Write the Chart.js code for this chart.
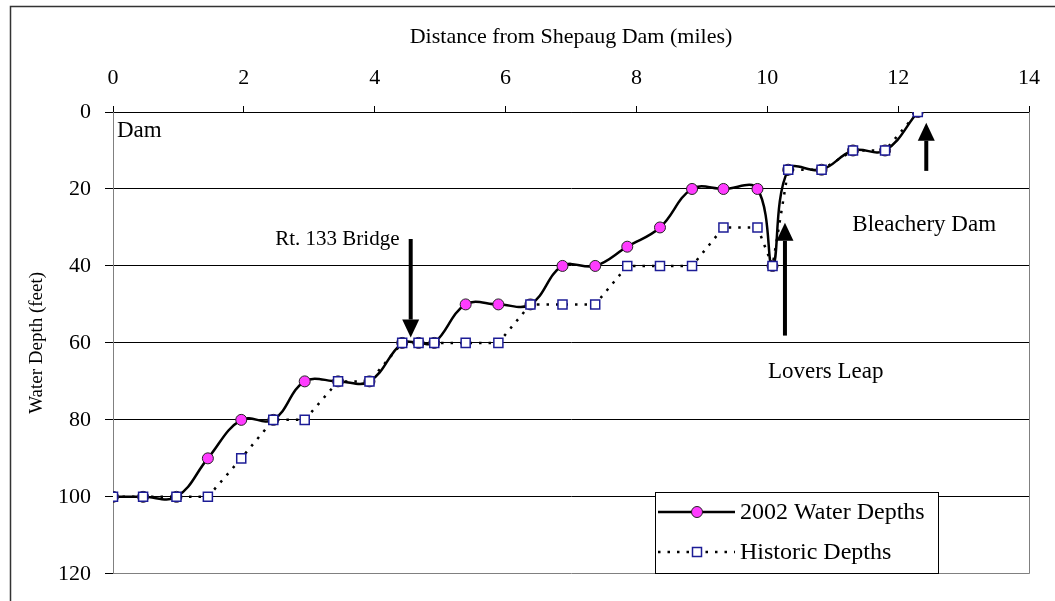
<!DOCTYPE html>
<html>
<head>
<meta charset="utf-8">
<script src="https://cdn.jsdelivr.net/npm/chart.js@4.4.0/dist/chart.umd.min.js"></script>
<style>
  html, body { margin: 0; padding: 0; background: #fff; }
  #wrap { width: 1055px; height: 601px; }
</style>
</head>
<body>
<div id="wrap"><canvas id="depthChart" width="1055" height="601"></canvas></div>
<script>
// distance from Shepaug Dam (miles) for each survey point
const miles = [0, 0.46, 0.97, 1.45, 1.96, 2.45, 2.93, 3.44, 3.92, 4.42, 4.67, 4.91, 5.39, 5.89,
  6.38, 6.87, 7.37, 7.86, 8.36, 8.85, 9.33, 9.85, 10.08, 10.32, 10.83, 11.31, 11.80, 12.30];
const depth2002 = [100, 100, 100, 90, 80, 80, 70, 70, 70, 60, 60, 60, 50, 50,
  50, 40, 40, 35, 30, 20, 20, 20, 40, 15, 15, 10, 10, 0];
const depthHistoric = [100, 100, 100, 100, 90, 80, 80, 70, 70, 60, 60, 60, 60, 60,
  50, 50, 50, 40, 40, 40, 30, 30, 40, 15, 15, 10, 10, 0];

const seriesNames = ['2002 Water Depths', 'Historic Depths'];
const xTitle = 'Distance from Shepaug Dam (miles)';
const yTitle = 'Water Depth (feet)';

// text labels and arrows, in chart units (miles, feet)
const notes = [
  { text: 'Dam', x: 0.06, y: 6.4, size: 23 },
  { text: 'Rt. 133 Bridge', x: 2.48, y: 34.6, size: 21 },
  { text: 'Bleachery Dam', x: 11.3, y: 30.8, size: 23 },
  { text: 'Lovers Leap', x: 10.01, y: 69.0, size: 23 }
];
const arrows = [
  { x: 4.55, from: 33, to: 58.6 },
  { x: 10.27, from: 58.1, to: 28.8 },
  { x: 12.43, from: 15.3, to: 2.8 }
];

const serif = "'Liberation Serif', 'Times New Roman', serif";

const toPoints = (ys) => ys.map((y, i) => ({ x: miles[i], y: y }));

const extras = {
  id: 'extras',
  afterDraw(chart) {
    const ctx = chart.ctx;
    const area = chart.chartArea;
    const xs = chart.scales.x;
    const ys = chart.scales.y;
    ctx.save();

    // outer frame (only top and left show in the picture)
    ctx.strokeStyle = '#333';
    ctx.lineWidth = 1.5;
    ctx.beginPath();
    ctx.moveTo(10.5, 601);
    ctx.lineTo(10.5, 6.5);
    ctx.lineTo(1055, 6.5);
    ctx.stroke();

    // plot area right edge
    ctx.strokeStyle = '#808080';
    ctx.lineWidth = 1;
    ctx.beginPath();
    ctx.moveTo(Math.round(area.right) + 0.5, area.top);
    ctx.lineTo(Math.round(area.right) + 0.5, area.bottom);
    ctx.stroke();

    // notes
    ctx.fillStyle = '#000';
    ctx.textAlign = 'left';
    ctx.textBaseline = 'alphabetic';
    notes.forEach(n => {
      ctx.font = n.size + 'px ' + serif;
      ctx.fillText(n.text, xs.getPixelForValue(n.x), ys.getPixelForValue(n.y));
    });

    // arrows
    arrows.forEach(a => {
      const x = xs.getPixelForValue(a.x);
      const y0 = ys.getPixelForValue(a.from);
      const y1 = ys.getPixelForValue(a.to);
      const dir = y1 > y0 ? 1 : -1;
      const headLen = 18, headW = 8.5;
      ctx.strokeStyle = '#000';
      ctx.lineWidth = 4;
      ctx.beginPath();
      ctx.moveTo(x, y0);
      ctx.lineTo(x, y1 - dir * headLen);
      ctx.stroke();
      ctx.beginPath();
      ctx.moveTo(x, y1);
      ctx.lineTo(x - headW, y1 - dir * headLen);
      ctx.lineTo(x + headW, y1 - dir * headLen);
      ctx.closePath();
      ctx.fill();
    });

    // legend box
    const lx = 655, ly = 492, lw = 283, lh = 81;
    ctx.fillStyle = '#fff';
    ctx.fillRect(lx, ly, lw, lh);
    ctx.strokeStyle = '#000';
    ctx.lineWidth = 1;
    ctx.strokeRect(lx + 0.5, ly + 0.5, lw, lh);
    chart.data.datasets.forEach((ds, i) => {
      const rowY = ly + 20 + i * 40;
      ctx.strokeStyle = ds.borderColor;
      ctx.lineWidth = ds.borderWidth;
      ctx.setLineDash(ds.borderDash || []);
      ctx.beginPath();
      ctx.moveTo(lx + 3, rowY);
      ctx.lineTo(lx + 80, rowY);
      ctx.stroke();
      ctx.setLineDash([]);
      const mx = lx + 42;
      ctx.fillStyle = ds.pointBackgroundColor;
      ctx.strokeStyle = ds.pointBorderColor;
      ctx.lineWidth = ds.pointBorderWidth;
      ctx.beginPath();
      if (ds.pointStyle === 'rect') {
        ctx.rect(mx - 4.5, rowY - 4.5, 9, 9);
      } else {
        ctx.arc(mx, rowY, ds.pointRadius, 0, Math.PI * 2);
      }
      ctx.fill();
      ctx.stroke();
      ctx.fillStyle = '#000';
      ctx.font = '24px ' + serif;
      ctx.textBaseline = 'middle';
      ctx.fillText(ds.label, lx + 85, rowY + 1);
    });
    ctx.restore();
  }
};

new Chart(document.getElementById('depthChart'), {
  type: 'line',
  data: {
    datasets: [
      {
        label: seriesNames[0],
        data: toPoints(depth2002),
        order: 1,
        borderColor: '#000',
        borderWidth: 2.5,
        tension: 0.4,
        pointStyle: 'circle',
        pointRadius: 5.5,
        pointBackgroundColor: '#ff3cff',
        pointBorderColor: '#222',
        pointBorderWidth: 1
      },
      {
        label: seriesNames[1],
        data: toPoints(depthHistoric),
        order: 0,
        borderColor: '#000',
        borderWidth: 2.5,
        borderDash: [2.5, 7],
        tension: 0,
        pointStyle: 'rect',
        pointRadius: 6.4,
        pointBackgroundColor: '#fff',
        pointBorderColor: '#1c1c96',
        pointBorderWidth: 1.5
      }
    ]
  },
  options: {
    responsive: false,
    animation: false,
    devicePixelRatio: 1,
    layout: { padding: { left: 0, top: 0, right: 12, bottom: 18 } },
    plugins: {
      legend: { display: false },
      tooltip: { enabled: false }
    },
    scales: {
      x: {
        type: 'linear',
        position: 'top',
        min: 0,
        max: 14,
        ticks: { stepSize: 2, color: '#000', padding: 15, font: { family: serif, size: 22 } },
        grid: { drawOnChartArea: false, tickLength: 6, tickColor: '#000' },
        border: { color: '#000', width: 1 },
        title: {
          display: true,
          text: xTitle,
          color: '#000',
          font: { family: serif, size: 22 },
          padding: { top: 24, bottom: 0 }
        },
        afterFit(scale) { scale.height = 112; }
      },
      y: {
        min: 0,
        max: 120,
        reverse: true,
        ticks: { stepSize: 20, color: '#000', padding: 14, font: { family: serif, size: 22 } },
        grid: {
          color: (c) => (c.tick && c.tick.value === 120 ? '#808080' : '#000'),
          tickColor: '#000',
          tickLength: 8
        },
        border: { color: '#808080', width: 1 },
        title: {
          display: true,
          text: yTitle,
          color: '#000',
          font: { family: serif, size: 19 },
          padding: { top: 26, bottom: 0 }
        },
        afterFit(scale) { scale.width = 113; }
      }
    }
  },
  plugins: [extras]
});
</script>
</body>
</html>
